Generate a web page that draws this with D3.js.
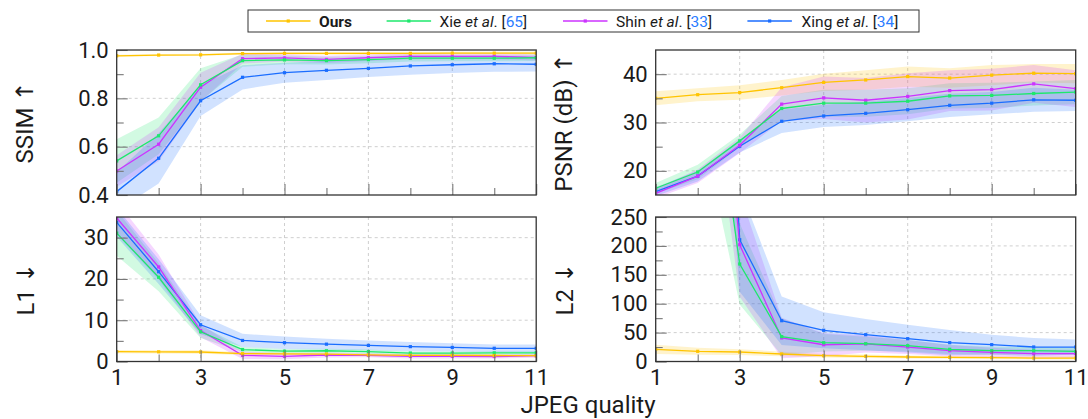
<!DOCTYPE html>
<html>
<head>
<meta charset="utf-8">
<script src="https://cdn.jsdelivr.net/npm/d3@7"></script>
<style>
  body { margin: 0; background: #fff; }
  svg { display: block; font-family: Roboto, "DejaVu Sans", sans-serif; }
</style>
</head>
<body>
<svg id="chart" width="1088" height="419"></svg>
<script>
// JPEG quality levels on the x axis
const quality = [1, 2, 3, 4, 5, 6, 7, 8, 9, 10, 11];
const xTickMajor = [1, 3, 5, 7, 9, 11];
const xTickMinor = [2, 4, 6, 8, 10];

// method names, colours and citation numbers for the legend
const methodNames = ["Ours", "Xie", "Shin", "Xing"];
const methodRefs = [null, "65", "33", "34"];
const methodColors = ["#ffc400", "#1ee86c", "#cc33ff", "#1a6dff"];

// SSIM (mean and standard deviation per quality level)
const ssimOurs = [0.976, 0.979, 0.980, 0.985, 0.986, 0.986, 0.986, 0.986, 0.987, 0.987, 0.987];
const ssimOursSd = [0.004, 0.004, 0.004, 0.005, 0.006, 0.006, 0.006, 0.006, 0.006, 0.006, 0.006];
const ssimXie = [0.541, 0.645, 0.856, 0.956, 0.959, 0.956, 0.960, 0.966, 0.966, 0.966, 0.968];
const ssimXieSd = [0.09, 0.076, 0.068, 0.025, 0.018, 0.016, 0.015, 0.014, 0.013, 0.013, 0.013];
const ssimShin = [0.499, 0.610, 0.846, 0.964, 0.967, 0.961, 0.968, 0.974, 0.974, 0.974, 0.969];
const ssimShinSd = [0.065, 0.07, 0.06, 0.02, 0.015, 0.015, 0.013, 0.012, 0.012, 0.012, 0.012];
const ssimXing = [0.414, 0.552, 0.790, 0.887, 0.906, 0.916, 0.924, 0.934, 0.939, 0.943, 0.941];
const ssimXingSd = [0.08, 0.104, 0.063, 0.05, 0.041, 0.04, 0.036, 0.036, 0.034, 0.033, 0.03];

// PSNR in dB
const psnrOurs = [35.0, 35.75, 36.2, 37.2, 38.3, 38.8, 39.5, 39.2, 39.8, 40.2, 40.1];
const psnrOursSd = [1.45, 1.35, 1.5, 1.6, 1.8, 2.0, 2.1, 2.0, 2.1, 1.9, 2.0];
const psnrXie = [16.4, 19.75, 26.2, 32.9, 34.0, 34.0, 34.4, 35.5, 35.6, 36.0, 36.3];
const psnrXieSd = [1.1, 1.5, 1.3, 2.6, 2.8, 2.8, 2.7, 2.6, 2.6, 2.5, 2.5];
const psnrShin = [15.35, 18.9, 25.3, 33.8, 35.1, 34.6, 35.4, 36.6, 36.8, 38.0, 37.0];
const psnrShinSd = [1.0, 1.4, 1.6, 3.5, 4.4, 4.6, 4.8, 4.2, 4.3, 3.9, 3.8];
const psnrXing = [15.7, 18.9, 25.1, 30.25, 31.35, 31.9, 32.65, 33.55, 34.0, 34.7, 34.6];
const psnrXingSd = [0.9, 1.1, 1.3, 2.4, 2.3, 2.4, 2.4, 2.4, 2.3, 2.5, 2.2];

// L1 error
const l1Ours = [2.4, 2.35, 2.3, 1.9, 1.85, 1.8, 1.6, 1.5, 1.5, 1.45, 1.4];
const l1OursSd = [0.4, 0.4, 0.4, 0.35, 0.3, 0.3, 0.3, 0.3, 0.3, 0.3, 0.3];
const l1Xie = [31.1, 20.4, 7.2, 2.9, 2.5, 2.6, 2.4, 2.05, 2.05, 2.1, 2.1];
const l1XieSd = [5.5, 3.4, 1.5, 0.6, 0.5, 0.5, 0.5, 0.4, 0.4, 0.4, 0.4];
const l1Shin = [34.75, 22.9, 7.5, 1.5, 1.25, 1.57, 1.5, 1.25, 1.25, 1.2, 1.4];
const l1ShinSd = [4.0, 3.0, 1.6, 0.9, 0.7, 0.6, 0.5, 0.5, 0.5, 0.5, 0.5];
const l1Xing = [33.7, 21.75, 8.9, 5.1, 4.55, 4.2, 3.9, 3.6, 3.4, 3.2, 3.2];
const l1XingSd = [3.5, 3.0, 2.3, 1.6, 1.5, 1.3, 1.2, 1.1, 1.0, 0.9, 0.9];

// L2 error
const l2Ours = [21, 17.6, 16.4, 13, 10, 9, 7.8, 7.2, 6.6, 6, 6];
const l2OursSd = [8, 6, 5, 4, 3, 3, 2.5, 2.5, 2.5, 2.5, 2.5];
const l2Xie = [2400, 690, 168.7, 43, 32.5, 30.8, 27.4, 21.1, 18.7, 18.7, 17.6];
const l2XieSd = [500, 250, 70, 32, 15, 12, 10, 8, 7, 6, 6];
const l2Shin = [3000, 960, 202, 40.7, 29, 30.5, 25, 18.7, 15.9, 13.5, 13.5];
const l2ShinSd = [600, 300, 90, 35, 20, 15, 12, 10, 8, 7, 7];
const l2Xing = [3300, 1450, 210.7, 70.6, 54, 46.4, 39.5, 32.6, 29.1, 25.1, 25];
const l2XingSd = [700, 400, 90, 42, 31, 27, 24, 22, 17, 15.6, 13];

// y-axis tick values
const ssimTicks = [0.4, 0.6, 0.8, 1.0];
const ssimMinor = [0.5, 0.7, 0.9];
const psnrTicks = [20, 30, 40];
const psnrMinor = [25, 35];
const l1Ticks = [0, 10, 20, 30];
const l1Minor = [5, 15, 25];
const l2Ticks = [0, 50, 100, 150, 200, 250];
const l2Minor = [25, 75, 125, 175, 225];

const svg = d3.select("#chart");

const colLeft = [116.7, 536.2];
const colRight = [655.7, 1075.7];
const rowTop = [50, 195];
const rowBottom = [217, 361.5];

const panels = [
  { id: "ssim", title: "SSIM \u2191", cols: colLeft, rows: rowTop, domain: [0.4, 1.0],
    ticks: ssimTicks, minor: ssimMinor, fmt: d3.format(".1f"), xLabels: false,
    means: [ssimOurs, ssimXie, ssimShin, ssimXing], sds: [ssimOursSd, ssimXieSd, ssimShinSd, ssimXingSd], titleX: 33 },
  { id: "psnr", title: "PSNR (dB) \u2191", cols: colRight, rows: rowTop, domain: [15, 45],
    ticks: psnrTicks, minor: psnrMinor, fmt: d3.format("d"), xLabels: false,
    means: [psnrOurs, psnrXie, psnrShin, psnrXing], sds: [psnrOursSd, psnrXieSd, psnrShinSd, psnrXingSd], titleX: 572 },
  { id: "l1", title: "L1 \u2193", cols: colLeft, rows: rowBottom, domain: [0, 35],
    ticks: l1Ticks, minor: l1Minor, fmt: d3.format("d"), xLabels: true,
    means: [l1Ours, l1Xie, l1Shin, l1Xing], sds: [l1OursSd, l1XieSd, l1ShinSd, l1XingSd], titleX: 34 },
  { id: "l2", title: "L2 \u2193", cols: colRight, rows: rowBottom, domain: [0, 250],
    ticks: l2Ticks, minor: l2Minor, fmt: d3.format("d"), xLabels: true,
    means: [l2Ours, l2Xie, l2Shin, l2Xing], sds: [l2OursSd, l2XieSd, l2ShinSd, l2XingSd], titleX: 573 }
];

panels.forEach(p => {
  const x = d3.scaleLinear().domain([1, 11]).range(p.cols);
  const y = d3.scaleLinear().domain(p.domain).range([p.rows[1], p.rows[0]]);
  const g = svg.append("g").attr("class", "panel-" + p.id);

  const clipId = "clip-" + p.id;
  svg.append("clipPath").attr("id", clipId)
    .append("rect")
    .attr("x", p.cols[0]).attr("y", p.rows[0])
    .attr("width", p.cols[1] - p.cols[0]).attr("height", p.rows[1] - p.rows[0]);

  // dashed grid
  const grid = g.append("g").attr("stroke", "#c9c9c9").attr("stroke-width", 0.9)
    .attr("stroke-dasharray", "3,3");
  grid.selectAll("line.v").data([3, 5, 7, 9]).join("line")
    .attr("x1", d => x(d)).attr("x2", d => x(d))
    .attr("y1", p.rows[0]).attr("y2", p.rows[1]);
  grid.selectAll("line.h").data(p.ticks.filter(t => t > p.domain[0] && t < p.domain[1])).join("line")
    .attr("x1", p.cols[0]).attr("x2", p.cols[1])
    .attr("y1", d => y(d)).attr("y2", d => y(d));

  // standard-deviation bands and mean lines
  const plot = g.append("g").attr("clip-path", `url(#${clipId})`);
  const area = d3.area()
    .x((d, i) => x(quality[i]))
    .y0(d => y(d[0] - d[1]))
    .y1(d => y(d[0] + d[1]));
  const line = d3.line()
    .x((d, i) => x(quality[i]))
    .y(d => y(d));

  p.means.forEach((m, k) => {
    plot.append("path")
      .datum(m.map((v, i) => [v, p.sds[k][i]]))
      .attr("d", area)
      .attr("fill", methodColors[k])
      .attr("fill-opacity", 0.2)
      .attr("stroke", "none");
  });
  [3, 2, 1, 0].forEach(k => {
    const m = p.means[k];
    plot.append("path").datum(m).attr("d", line)
      .attr("fill", "none").attr("stroke", methodColors[k]).attr("stroke-width", 1.3);
    plot.selectAll(null).data(m).join("rect")
      .attr("x", (d, i) => x(quality[i]) - 1.6)
      .attr("y", d => y(d) - 1.6)
      .attr("width", 3.2).attr("height", 3.2)
      .attr("fill", methodColors[k]);
  });

  // inward axis ticks
  const yAxisMajor = d3.axisLeft(y).tickValues(p.ticks).tickFormat(p.fmt)
    .tickSizeInner(-11).tickSizeOuter(0).tickPadding(8);
  const yAxisMinor = d3.axisLeft(y).tickValues(p.minor).tickFormat("")
    .tickSizeInner(-7).tickSizeOuter(0);
  const yg = g.append("g").attr("transform", `translate(${p.cols[0]},0)`).call(yAxisMajor);
  const yg2 = g.append("g").attr("transform", `translate(${p.cols[0]},0)`).call(yAxisMinor);

  const xAxisMajor = d3.axisBottom(x).tickValues(xTickMajor)
    .tickFormat(p.xLabels ? d3.format("d") : "")
    .tickSizeInner(-11).tickSizeOuter(0).tickPadding(7.5);
  const xAxisMinor = d3.axisBottom(x).tickValues(xTickMinor).tickFormat("")
    .tickSizeInner(-7).tickSizeOuter(0);
  const xg = g.append("g").attr("transform", `translate(0,${p.rows[1]})`).call(xAxisMajor);
  const xg2 = g.append("g").attr("transform", `translate(0,${p.rows[1]})`).call(xAxisMinor);

  [yg, yg2, xg, xg2].forEach(a => {
    a.select(".domain").remove();
    a.selectAll(".tick line").attr("stroke", "#777").attr("stroke-width", 1.1);
    a.selectAll(".tick text").attr("font-family", "Roboto, sans-serif")
      .attr("font-size", 22).attr("fill", "#1a1a1a");
  });

  // frame
  g.append("rect")
    .attr("x", p.cols[0]).attr("y", p.rows[0])
    .attr("width", p.cols[1] - p.cols[0]).attr("height", p.rows[1] - p.rows[0])
    .attr("fill", "none").attr("stroke", "#333").attr("stroke-width", 1.3);

  // rotated y title
  const cy = (p.rows[0] + p.rows[1]) / 2;
  g.append("text")
    .attr("transform", `translate(${p.titleX},${cy}) rotate(-90)`)
    .attr("text-anchor", "middle")
    .attr("font-size", 24).attr("fill", "#1a1a1a")
    .text(p.title);
});

// x-axis title
svg.append("text")
  .attr("x", 588).attr("y", 413)
  .attr("text-anchor", "middle")
  .attr("font-size", 24).attr("fill", "#1a1a1a")
  .text("JPEG quality");

// legend
const legend = svg.append("g").attr("class", "legend");
legend.append("rect")
  .attr("x", 248).attr("y", 10).attr("width", 671).attr("height", 22)
  .attr("fill", "#fff").attr("stroke", "#333").attr("stroke-width", 1);

const legendLineX = [266, 386.6, 563, 747.4];
const legendTextX = [319, 439.5, 616, 801.6];
const legendY = 21;

methodNames.forEach((name, k) => {
  legend.append("line")
    .attr("x1", legendLineX[k]).attr("x2", legendLineX[k] + 44.5)
    .attr("y1", legendY).attr("y2", legendY)
    .attr("stroke", methodColors[k]).attr("stroke-width", 1.3);
  legend.append("rect")
    .attr("x", legendLineX[k] + 22.25 - 1.6).attr("y", legendY - 1.6)
    .attr("width", 3.2).attr("height", 3.2).attr("fill", methodColors[k]);
  const t = legend.append("text")
    .attr("x", legendTextX[k]).attr("y", legendY + 5.5)
    .attr("font-size", 15.5).attr("fill", "#1a1a1a");
  if (methodRefs[k] === null) {
    t.attr("font-weight", "bold").text(name);
  } else {
    t.append("tspan").text(name + " ");
    t.append("tspan").attr("font-style", "italic").text("et al");
    t.append("tspan").text(". [");
    t.append("tspan").attr("fill", "#2b7cff").text(methodRefs[k]);
    t.append("tspan").text("]");
  }
});
</script>
</body>
</html>
